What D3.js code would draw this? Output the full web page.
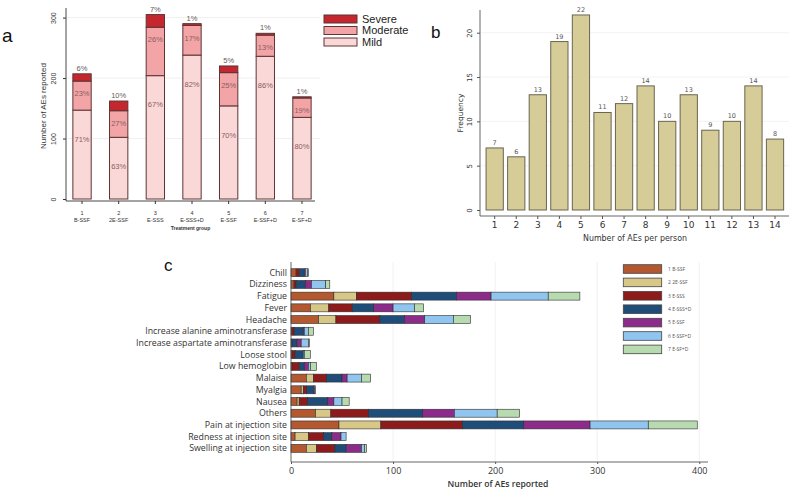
<!DOCTYPE html>
<html><head><meta charset="utf-8">
<script src="https://cdn.jsdelivr.net/npm/d3@7"></script>
<style>body{margin:0;background:#fff} svg{display:block}</style>
</head><body><svg id="c" width="800" height="501"></svg>
<script>
// ---------- DATA ----------
// Panel a
const groupNums = ["1","2","3","4","5","6","7"];
const groupNames = ["B-SSF","2E-SSF","E-SSS","E-SSS+D","E-SSF","E-SSF+D","E-SF+D"];
const mildA = [147,102,204,238,154,236,135];
const moderateA = [48,44,80,49,55,35,32];
const severeA = [12,16,21,3,11,3,2];
const pctMild = ["71%","63%","67%","82%","70%","86%","80%"];
const pctModerate = ["23%","27%","26%","17%","25%","13%","19%"];
const pctSevere = ["6%","10%","7%","1%","5%","1%","1%"];
const severityLabels = ["Severe","Moderate","Mild"];
const ticksA = [0,100,200,300];
// Panel b
const aesPerPerson = ["1","2","3","4","5","6","7","8","9","10","11","12","13","14"];
const frequency = [7,6,13,19,22,11,12,14,10,13,9,10,14,8];
const ticksB = [0,5,10,15,20];
// Panel c
const aeTypes = ["Chill","Dizziness","Fatigue","Fever","Headache","Increase alanine aminotransferase","Increase aspartate aminotransferase","Loose stool","Low hemoglobin","Malaise","Myalgia","Nausea","Others","Pain at injection site","Redness at injection site","Swelling at injection site"];
const legendC = ["1 B-SSF","2 2E-SSF","3 E-SSS","4 E-SSS+D","5 E-SSF","6 E-SSF+D","7 E-SF+D"];
const g1 = [5,3,42,19,27,0,0,1,1,15,10,6,24,47,4,15];
const g2 = [0,0,22,18,17,0,0,0,0,7,2,2,15,41,13,10];
const g3 = [3,2,54,23,43,3,1,3,7,13,3,8,37,80,15,18];
const g4 = [5,9,44,21,24,9,5,8,5,15,7,20,53,60,8,11];
const g5 = [1,6,34,19,20,1,4,0,4,5,1,6,31,65,9,15];
const g6 = [2,14,56,21,28,4,7,1,2,14,1,8,42,57,5,3];
const g7 = [1,4,31,9,17,5,1,6,6,9,0,7,22,48,0,2];
const ticksC = [0,100,200,300,400];

// ---------- DRAW ----------
const svg = d3.select("#c");
svg.append("rect").attr("width",800).attr("height",501).attr("fill","#fff");

// ===== Panel a =====
const gA = svg.append("g").attr("font-family","'Liberation Sans', Arial, sans-serif");
const xA = d3.scaleBand().domain(groupNums).range([63.7,320.3]).paddingInner(0.5).paddingOuter(0.25);
const yA = d3.scaleLinear().domain([0,300]).range([199,17.6]);
gA.append("text").attr("x",2).attr("y",42).attr("font-size",19).attr("fill","#111").text("a");
gA.selectAll("line.grid").data(ticksA.slice(1)).join("line").attr("class","grid")
  .attr("x1",67).attr("x2",320).attr("y1",d=>yA(d)).attr("y2",d=>yA(d))
  .attr("stroke","#ebebeb").attr("stroke-width",0.8);
const rowsA = groupNums.map((g,i)=>({g, mild:mildA[i], moderate:moderateA[i], severe:severeA[i]}));
const stackA = d3.stack().keys(["mild","moderate","severe"])(rowsA);
const colA = {mild:"#fbd8d8", moderate:"#f2a4a7", severe:"#c4272e"};
gA.selectAll("g.layer").data(stackA).join("g").attr("class","layer").attr("fill",d=>colA[d.key])
  .selectAll("rect").data(d=>d).join("rect")
  .attr("x",d=>xA(d.data.g)).attr("width",xA.bandwidth())
  .attr("y",d=>yA(d[1])).attr("height",d=>yA(d[0])-yA(d[1]))
  .attr("stroke","#5e3434").attr("stroke-width",1);
// percent labels
const lblA = gA.append("g").attr("font-size",7.5).attr("fill","#8a5e60").attr("text-anchor","middle");
groupNums.forEach((g,i)=>{
  const cx = xA(g)+xA.bandwidth()/2;
  lblA.append("text").attr("x",cx).attr("y",yA(mildA[i])+29).attr("dy","0.35em").text(pctMild[i]);
  lblA.append("text").attr("x",cx).attr("y",yA(mildA[i]+moderateA[i])+12.5).attr("dy","0.35em").text(pctModerate[i]);
  lblA.append("text").attr("x",cx).attr("y",yA(mildA[i]+moderateA[i]+severeA[i])-3).attr("fill","#6a5a5a").text(pctSevere[i]);
});
// axes
gA.append("line").attr("x1",66).attr("x2",66).attr("y1",8).attr("y2",201).attr("stroke","#333").attr("stroke-width",0.9);
gA.append("line").attr("x1",66).attr("x2",315).attr("y1",201).attr("y2",201).attr("stroke","#333").attr("stroke-width",0.9);
const yAxA = gA.append("g").attr("transform","translate(66,0)")
  .call(d3.axisLeft(yA).tickValues(ticksA).tickSize(3).tickPadding(2));
yAxA.select(".domain").remove();
yAxA.selectAll("line").attr("stroke","#333");
yAxA.selectAll("text").attr("x",0).attr("y",-10).attr("dy",0).attr("transform","rotate(-90)")
  .attr("text-anchor","middle").attr("font-size",7).attr("fill","#333").attr("font-family","'Liberation Sans', Arial");
const xAxA = gA.append("g").attr("transform","translate(0,201)")
  .call(d3.axisBottom(xA).tickSize(3).tickPadding(2));
xAxA.select(".domain").remove();
xAxA.selectAll("line").attr("stroke","#333");
xAxA.selectAll("text").remove();
xAxA.selectAll(".tick").append("text").attr("y",13.5).attr("fill","#333").attr("font-size",5.5)
  .attr("text-anchor","middle").attr("font-family","'Liberation Sans', Arial").text(d=>d);
xAxA.selectAll(".tick").append("text").attr("y",21).attr("fill","#333").attr("font-size",5.5)
  .attr("text-anchor","middle").attr("font-family","'Liberation Sans', Arial").text((d,i)=>groupNames[i]);
gA.append("text").attr("x",(66+315)/2).attr("y",230).attr("text-anchor","middle").attr("font-size",5)
  .attr("font-weight","bold").attr("fill","#333").text("Treatment group");
gA.append("text").attr("transform","translate(46,106) rotate(-90)").attr("text-anchor","middle")
  .attr("font-size",8).attr("fill","#333").text("Number of AEs reported");
// legend a
const legA = gA.append("g");
["severe","moderate","mild"].forEach((k,i)=>{
  const y0 = 15 + i*11.5;
  legA.append("rect").attr("x",324).attr("y",y0).attr("width",33).attr("height",8)
    .attr("fill",colA[k]).attr("stroke","#5e3434").attr("stroke-width",1);
  legA.append("text").attr("x",362).attr("y",y0+4).attr("dy","0.35em").attr("font-size",11)
    .attr("fill","#222").text(severityLabels[i]);
});

// ===== Panel b =====
const gB = svg.append("g").attr("font-family","'DejaVu Sans', Verdana, sans-serif");
const xB = d3.scaleBand().domain(aesPerPerson).range([483.9,785.8]).paddingInner(0.2).paddingOuter(0.1);
const yB = d3.scaleLinear().domain([0,20]).range([210,32.7]);
gB.append("text").attr("x",431).attr("y",38).attr("font-size",17).attr("fill","#111")
  .attr("font-family","'Liberation Sans', Arial").text("b");
gB.selectAll("line.grid").data(ticksB.slice(1)).join("line").attr("class","grid")
  .attr("x1",481).attr("x2",789).attr("y1",d=>yB(d)).attr("y2",d=>yB(d))
  .attr("stroke","#efefef").attr("stroke-width",0.8);
gB.selectAll("rect.bar").data(frequency).join("rect").attr("class","bar")
  .attr("x",(d,i)=>xB(aesPerPerson[i])).attr("width",xB.bandwidth())
  .attr("y",d=>yB(d)).attr("height",d=>yB(0)-yB(d))
  .attr("fill","#d6cc97").attr("stroke","#6a6450").attr("stroke-width",1);
gB.selectAll("text.val").data(frequency).join("text").attr("class","val")
  .attr("x",(d,i)=>xB(aesPerPerson[i])+xB.bandwidth()/2).attr("y",d=>yB(d)-3)
  .attr("text-anchor","middle").attr("font-size",6.5).attr("fill","#555").text(d=>d);
gB.append("line").attr("x1",480).attr("x2",480).attr("y1",10).attr("y2",216).attr("stroke","#555").attr("stroke-width",0.9);
gB.append("line").attr("x1",480).attr("x2",789).attr("y1",216).attr("y2",216).attr("stroke","#555").attr("stroke-width",0.9);
const yAxB = gB.append("g").attr("transform","translate(480,0)")
  .call(d3.axisLeft(yB).tickValues(ticksB).tickSize(3));
yAxB.select(".domain").remove();
yAxB.selectAll("line").attr("stroke","#555");
yAxB.selectAll("text").attr("x",0).attr("y",-8).attr("dy",0).attr("transform","rotate(-90)")
  .attr("text-anchor","middle").attr("font-size",7).attr("fill","#333").attr("font-family","'DejaVu Sans', Verdana");
const xAxB = gB.append("g").attr("transform","translate(0,216)")
  .call(d3.axisBottom(xB).tickSize(3).tickPadding(3));
xAxB.select(".domain").remove();
xAxB.selectAll("line").attr("stroke","#555");
xAxB.selectAll("text").attr("font-size",9).attr("fill","#333").attr("font-family","'DejaVu Sans', Verdana");
gB.append("text").attr("x",635).attr("y",241).attr("text-anchor","middle").attr("font-size",9)
  .attr("textLength",104).attr("lengthAdjust","spacingAndGlyphs").attr("fill","#333").text("Number of AEs per person");
gB.append("text").attr("transform","translate(463,113) rotate(-90)").attr("text-anchor","middle")
  .attr("font-size",7.5).attr("fill","#333").text("Frequency");

// ===== Panel c =====
const gC = svg.append("g").attr("font-family","'Open Sans', 'Noto Sans', sans-serif");
const xC = d3.scaleLinear().domain([0,400]).range([291,699.3]);
const yC = d3.scaleBand().domain(aeTypes).range([266.85,454.2]).paddingInner(0.32).paddingOuter(0.16);
gC.append("text").attr("x",164).attr("y",271).attr("font-size",17).attr("fill","#111")
  .attr("font-family","'Liberation Sans', Arial").text("c");
gC.selectAll("line.grid").data(ticksC.slice(1)).join("line").attr("class","grid")
  .attr("x1",d=>xC(d)).attr("x2",d=>xC(d)).attr("y1",262).attr("y2",462)
  .attr("stroke","#ececec").attr("stroke-width",0.8);
const keysC = ["g1","g2","g3","g4","g5","g6","g7"];
const seriesC = [g1,g2,g3,g4,g5,g6,g7];
const rowsC = aeTypes.map((t,i)=>{const o={t}; keysC.forEach((k,j)=>o[k]=seriesC[j][i]); return o;});
const stackC = d3.stack().keys(keysC)(rowsC);
const colC = ["#b3582f","#d7c888","#8e1b1c","#1f4d7a","#8c2b8a","#8fc5ee","#b7dab0"];
gC.selectAll("g.layer").data(stackC).join("g").attr("class","layer").attr("fill",(d,i)=>colC[i])
  .selectAll("rect").data(d=>d.filter(s=>s[1]>s[0])).join("rect")
  .attr("x",d=>xC(d[0])).attr("width",d=>xC(d[1])-xC(d[0]))
  .attr("y",d=>yC(d.data.t)).attr("height",yC.bandwidth())
  .attr("stroke","#2e2e2e").attr("stroke-width",0.6);
gC.selectAll("text.cat").data(aeTypes).join("text").attr("class","cat")
  .attr("x",287).attr("y",d=>yC(d)+yC.bandwidth()/2).attr("dy","0.35em").attr("text-anchor","end")
  .attr("font-size",8.8).attr("fill","#333").text(d=>d);
gC.append("line").attr("x1",291).attr("x2",291).attr("y1",262).attr("y2",462).attr("stroke","#555").attr("stroke-width",0.9);
gC.append("line").attr("x1",291).attr("x2",708).attr("y1",462).attr("y2",462).attr("stroke","#555").attr("stroke-width",0.9);
const xAxC = gC.append("g").attr("transform","translate(0,462)")
  .call(d3.axisBottom(xC).tickValues(ticksC).tickSize(2).tickPadding(4));
xAxC.select(".domain").remove();
xAxC.selectAll("line").attr("stroke","#555");
xAxC.selectAll("text").attr("font-size",9).attr("fill","#333").attr("font-family","'Open Sans', sans-serif");
gC.append("text").attr("x",498).attr("y",487).attr("text-anchor","middle").attr("font-size",8.6)
  .attr("font-weight",600).attr("fill","#333").text("Number of AEs reported");
// legend c
const legC = gC.append("g");
legendC.forEach((l,i)=>{
  const cy = 269 + i*13.4;
  legC.append("rect").attr("x",623.3).attr("y",cy-4.3).attr("width",38.4).attr("height",8.6)
    .attr("fill",colC[i]).attr("stroke","#444").attr("stroke-width",0.8);
  legC.append("text").attr("x",668).attr("y",cy).attr("dy","0.35em").attr("font-size",5)
    .attr("fill","#555").text(l);
});
</script></body></html>
